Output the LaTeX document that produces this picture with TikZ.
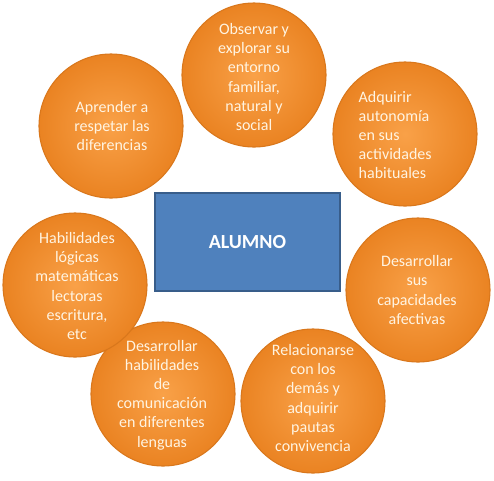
\documentclass[tikz,border=0pt]{standalone}
\usepackage{fontspec}
\setmainfont{Carlito}
\definecolor{orangeIn}{HTML}{F9A148}
\definecolor{orangeOut}{HTML}{EA8322}
\definecolor{orangeRim}{HTML}{D9771C}
\definecolor{bubbleText}{HTML}{FFF4E2}
\definecolor{boxFill}{HTML}{4F81BD}
\definecolor{boxRim}{HTML}{385D8A}
\begin{document}
\begin{tikzpicture}[x=0.75pt,y=-0.75pt,
  bubble/.style={circle, minimum size=108pt, inner sep=0pt, shading=radial,
    inner color=orangeIn, outer color=orangeOut, draw=orangeRim, line width=0.8pt},
  btext/.style={text=bubbleText, align=center, font=\fontsize{12}{14.4}\selectfont},
  centerbox/.style={rectangle, fill=boxFill, draw=boxRim, line width=1.2pt,
    minimum width=138.75pt, minimum height=73.5pt, text=white,
    font=\fontsize{15}{18}\selectfont\bfseries}]
\useasboundingbox (0,0) rectangle (494,480);
% bubbles
\node[bubble] (c1) at (254,75) {};
\node[bubble] (c2) at (405,134) {};
\node[bubble] (c3) at (418,290) {};
\node[bubble] (c4) at (313,401) {};
\node[bubble] (c5) at (163,394) {};
\node[bubble] (c6) at (75,285) {};
\node[bubble] (c7) at (111,126) {};
% texts
\node[btext] (t1) at (254,77) {Observar y\\explorar su\\entorno\\familiar,\\natural y\\social};
\node[btext, align=left, anchor=west] (t2) at (354,135) {Adquirir\\autonomía\\en sus\\actividades\\habituales};
\node[btext] (t3) at (417,290) {Desarrollar\\sus\\capacidades\\afectivas};
\node[btext] (t4) at (313,398) {Relacionarse\\con los\\demás y\\adquirir\\pautas\\convivencia};
\node[btext] (t5) at (162,395) {Desarrollar\\habilidades\\de\\comunicación\\en diferentes\\lenguas};
\node[btext] (t6) at (77,286) {Habilidades\\lógicas\\matemáticas\\lectoras\\escritura,\\etc};
\node[btext] (t7) at (112,126) {Aprender a\\respetar las\\diferencias};
% centre box
\node[centerbox] (alumno) at (247.5,242) {ALUMNO};
\end{tikzpicture}
\end{document}
